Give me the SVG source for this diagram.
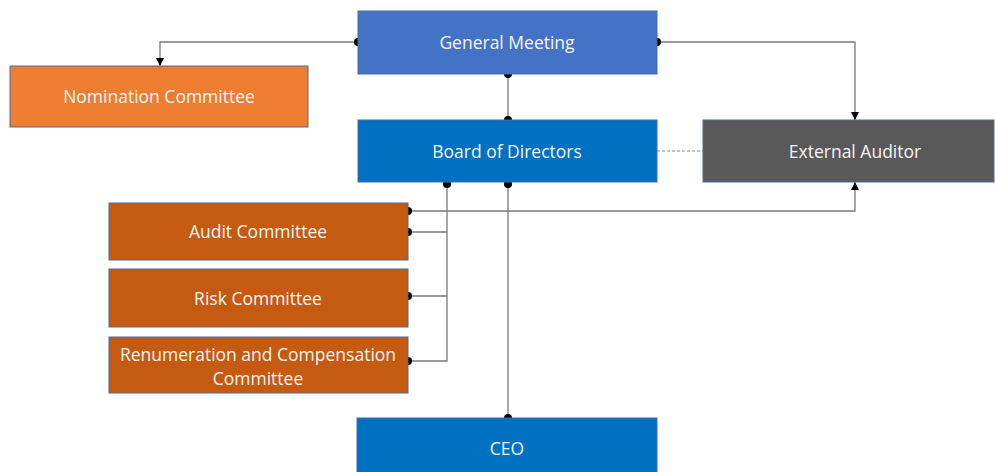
<svg xmlns="http://www.w3.org/2000/svg" width="995" height="472" viewBox="0 0 995 472">
  <style>
    .box { stroke: #4a6aa8; stroke-width: 1; }
    .lbl { font-family: "Open Sans", "Noto Sans", sans-serif; font-size: 17.5px; fill: #f4f4f4; text-anchor: middle; dominant-baseline: central; }
    .wire { fill: none; stroke: #7a7a7a; stroke-width: 1.3; }
    .dash { fill: none; stroke: #8a8a8a; stroke-width: 1.2; stroke-dasharray: 3 2; }
    .dot { fill: #000; }
  </style>
  <defs>
    <marker id="arrow" viewBox="0 0 10 10" refX="10" refY="5" markerWidth="8" markerHeight="8" markerUnits="userSpaceOnUse" orient="auto">
      <path d="M0,0 L10,5 L0,10 Z" fill="#000"/>
    </marker>
  </defs>
  <rect width="995" height="472" fill="#ffffff"/>

  <g id="connectors">
    <path class="wire" d="M358,42 H160 V66" marker-end="url(#arrow)"/>
    <path class="wire" d="M657,42 H855 V120" marker-end="url(#arrow)"/>
    <path class="wire" d="M508,74 V120"/>
    <path class="dash" d="M657,151 H703"/>
    <path class="wire" d="M508,182 V418"/>
    <path class="wire" d="M447,182 V361 H408"/>
    <path class="wire" d="M447,232 H408"/>
    <path class="wire" d="M447,296 H408"/>
    <path class="wire" d="M408,211 H855 V182" marker-end="url(#arrow)"/>
    <circle class="dot" cx="358" cy="42" r="4"/>
    <circle class="dot" cx="657" cy="42" r="4"/>
    <circle class="dot" cx="508" cy="74" r="4"/>
    <circle class="dot" cx="508" cy="120" r="4"/>
    <circle class="dot" cx="447" cy="184" r="4"/>
    <circle class="dot" cx="508" cy="184" r="4"/>
    <circle class="dot" cx="508" cy="418" r="4"/>
    <circle class="dot" cx="408" cy="211" r="4"/>
    <circle class="dot" cx="408" cy="232" r="4"/>
    <circle class="dot" cx="408" cy="296" r="4"/>
    <circle class="dot" cx="408" cy="361" r="4"/>
  </g>

  <g id="general-meeting">
    <rect class="box" x="358" y="11" width="299" height="63" fill="#4472c4"/>
    <text class="lbl" x="507" y="42">General Meeting</text>
  </g>
  <g id="nomination-committee">
    <rect class="box" x="10" y="66" width="298" height="61" fill="#ed7d31"/>
    <text class="lbl" x="159" y="96">Nomination Committee</text>
  </g>
  <g id="board-of-directors">
    <rect class="box" x="358" y="120" width="299" height="62" fill="#0070c0"/>
    <text class="lbl" x="507" y="151">Board of Directors</text>
  </g>
  <g id="external-auditor">
    <rect class="box" x="703" y="120" width="291" height="62" fill="#595959"/>
    <text class="lbl" x="855" y="151">External Auditor</text>
  </g>
  <g id="audit-committee">
    <rect class="box" x="109" y="203" width="299" height="57" fill="#c55a11"/>
    <text class="lbl" x="258" y="231">Audit Committee</text>
  </g>
  <g id="risk-committee">
    <rect class="box" x="109" y="269" width="299" height="58" fill="#c55a11"/>
    <text class="lbl" x="258" y="298">Risk Committee</text>
  </g>
  <g id="renumeration-committee">
    <rect class="box" x="109" y="337" width="299" height="56" fill="#c55a11"/>
    <text class="lbl" x="258" y="354">Renumeration and Compensation</text>
    <text class="lbl" x="258" y="378">Committee</text>
  </g>
  <g id="ceo">
    <rect class="box" x="357" y="418" width="300" height="60" fill="#0070c0"/>
    <text class="lbl" x="507" y="448">CEO</text>
  </g>
</svg>
